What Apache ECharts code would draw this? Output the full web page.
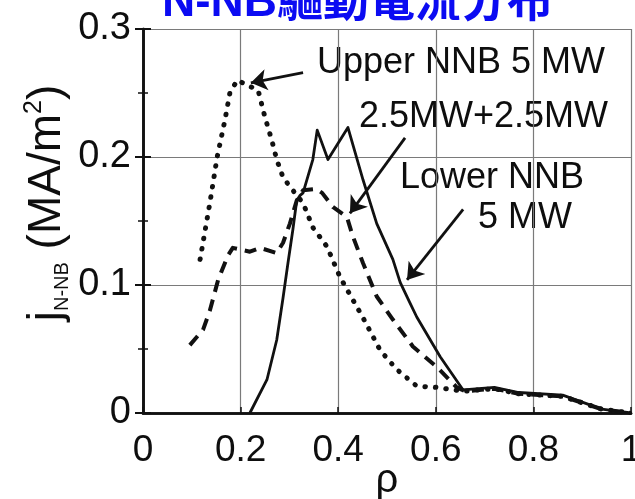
<!DOCTYPE html>
<html>
<head>
<meta charset="utf-8">
<script src="https://cdn.jsdelivr.net/npm/echarts@6/dist/echarts.min.js"></script>
<style>
  html, body { margin: 0; padding: 0; background: #fff; }
  #chart { width: 635px; height: 499px; }
</style>
</head>
<body>
<div id="chart"></div>
<script>
// Normalized radius rho and N-NB driven current density j (MA/m^2)
const rhoUpper = [0.117, 0.137, 0.152, 0.168, 0.178, 0.193, 0.215, 0.236, 0.25, 0.264, 0.274, 0.287, 0.307, 0.328, 0.348, 0.377, 0.404, 0.45, 0.486, 0.52, 0.561, 0.602, 0.656, 0.72, 0.77, 0.86, 0.94, 1.0];
const jUpper   = [0.12, 0.164, 0.2, 0.229, 0.25, 0.26, 0.256, 0.252, 0.231, 0.213, 0.198, 0.184, 0.174, 0.164, 0.145, 0.13, 0.106, 0.075, 0.049, 0.034, 0.021, 0.02, 0.017, 0.019, 0.015, 0.013, 0.003, 0.0];

const rhoCombo = [0.096, 0.123, 0.137, 0.154, 0.174, 0.184, 0.219, 0.24, 0.274, 0.287, 0.301, 0.315, 0.328, 0.355, 0.367, 0.389, 0.418, 0.43, 0.451, 0.479, 0.512, 0.553, 0.602, 0.643, 0.66, 0.72, 0.77, 0.86, 0.94, 1.0];
const jCombo   = [0.053, 0.065, 0.08, 0.104, 0.123, 0.129, 0.126, 0.129, 0.125, 0.133, 0.148, 0.166, 0.174, 0.175, 0.172, 0.161, 0.153, 0.138, 0.117, 0.091, 0.073, 0.052, 0.036, 0.02, 0.017, 0.019, 0.015, 0.013, 0.003, 0.0];

const rhoLower = [0.219, 0.254, 0.274, 0.287, 0.297, 0.307, 0.315, 0.322, 0.328, 0.348, 0.357, 0.379, 0.42, 0.451, 0.479, 0.512, 0.527, 0.547, 0.561, 0.609, 0.656, 0.72, 0.77, 0.86, 0.94, 1.0];
const jLower   = [0.0, 0.026, 0.057, 0.09, 0.117, 0.143, 0.166, 0.17, 0.172, 0.198, 0.221, 0.198, 0.223, 0.182, 0.148, 0.12, 0.102, 0.086, 0.075, 0.044, 0.018, 0.02, 0.016, 0.014, 0.003, 0.0];

// Annotation arrows: [tail, head] in (rho, j)
const arrowUpper = [[0.328, 0.266], [0.221, 0.258]];
const arrowCombo = [[0.537, 0.215], [0.424, 0.156]];
const arrowLower = [[0.656, 0.159], [0.541, 0.104]];

const xTickLabels = ['0', '0.2', '0.4', '0.6', '0.8', '1'];
const yTickLabels = ['0', '0.1', '0.2', '0.3'];

const titleText = 'N-NB驅動電流分布';
const labelUpper = 'Upper NNB 5 MW';
const labelCombo = '2.5MW+2.5MW';
const labelLower1 = 'Lower NNB';
const labelLower2 = '5 MW';

const pairs = (xs, ys) => xs.map((x, i) => [x, ys[i]]);

const FONT = '"Liberation Sans", Arial, Helvetica, sans-serif';
const INK = '#0e0e0e';

const chart = echarts.init(document.getElementById('chart'), null, { renderer: 'canvas' });

const gridLine = { show: true, lineStyle: { color: '#7a7a7a', width: 1.2 } };
const frameLine = { show: true, lineStyle: { color: '#111', width: 2.6 } };
const textStyleOf = size => ({ font: size + 'px ' + FONT, fill: INK, align: 'left', verticalAlign: 'middle', textAlign: 'left', textVerticalAlign: 'middle' });

chart.setOption({
  backgroundColor: '#ffffff',
  animation: false,
  title: {
    text: titleText,
    left: 162,
    top: -20,
    padding: 0,
    textStyle: {
      color: '#0b0bf2',
      fontSize: 46,
      fontWeight: 'bold',
      fontFamily: '"Liberation Sans", "Noto Sans CJK TC", sans-serif'
    }
  },
  grid: { left: 143, right: 4, top: 29, bottom: 86, outerBoundsMode: 'none' },
  xAxis: [
    {
      type: 'value', min: 0, max: 1, interval: 0.2,
      name: 'ρ', nameLocation: 'middle', nameGap: 48, nameMoveOverlap: false,
      nameTextStyle: { fontSize: 40, color: INK, fontFamily: FONT },
      axisLine: frameLine,
      axisTick: { show: true, inside: true, length: 6, lineStyle: { color: '#111', width: 1.5 } },
      splitLine: gridLine,
      axisLabel: {
        margin: 19, fontSize: 37, color: INK, fontFamily: FONT,
        formatter: v => xTickLabels[Math.round(v / 0.2)]
      }
    },
    {
      type: 'value', min: 0, max: 1, interval: 0.2, position: 'top',
      axisLine: frameLine, axisTick: { show: false }, axisLabel: { show: false }, splitLine: { show: false }
    }
  ],
  yAxis: [
    {
      type: 'value', min: 0, max: 0.3, interval: 0.1,
      name: '{j|j}{s|N-NB} {m|(MA/m}{p|2}{m|)}',
      nameLocation: 'middle', nameRotate: 90, nameGap: 71, nameMoveOverlap: false,
      nameTextStyle: {
        color: INK, fontFamily: FONT, fontSize: 46,
        padding: [0, 0, 0, 36],
        rich: {
          j: { fontSize: 46, lineHeight: 50, fontFamily: FONT, color: INK },
          s: { fontSize: 20, lineHeight: 20, verticalAlign: 'bottom', fontFamily: FONT, color: INK },
          m: { fontSize: 46, lineHeight: 50, fontFamily: FONT, color: INK },
          p: { fontSize: 25, lineHeight: 25, verticalAlign: 'top', fontFamily: FONT, color: INK }
        }
      },
      axisLine: frameLine,
      axisTick: { show: true, inside: true, length: 8, lineStyle: { color: '#111', width: 2 } },
      minorTick: { show: true, splitNumber: 2, length: 5, lineStyle: { color: '#111', width: 1.5 } },
      splitLine: gridLine,
      axisLabel: {
        margin: 12, fontSize: 38, color: INK, fontFamily: FONT,
        formatter: v => yTickLabels[Math.round(v / 0.1)]
      }
    },
    {
      type: 'value', min: 0, max: 0.3, interval: 0.1, position: 'right',
      axisLine: frameLine,
      axisTick: { show: true, inside: true, length: 8, lineStyle: { color: '#111', width: 2 } },
      minorTick: { show: true, splitNumber: 2, length: 5, lineStyle: { color: '#111', width: 1.5 } },
      axisLabel: { show: false }, splitLine: { show: false }
    }
  ],
  series: [
    {
      name: labelUpper, type: 'line', data: pairs(rhoUpper, jUpper),
      showSymbol: false, symbol: 'none',
      lineStyle: { color: '#111', width: 5, type: [0.5, 10], cap: 'round', join: 'round' }
    },
    {
      name: labelCombo, type: 'line', data: pairs(rhoCombo, jCombo),
      showSymbol: false, symbol: 'none',
      lineStyle: { color: '#111', width: 4, type: [12, 8], cap: 'butt', join: 'round' }
    },
    {
      name: labelLower1 + ' ' + labelLower2, type: 'line', data: pairs(rhoLower, jLower),
      showSymbol: false, symbol: 'none',
      lineStyle: { color: '#111', width: 2.8, type: 'solid', join: 'round' }
    },
    {
      type: 'lines', coordinateSystem: 'cartesian2d',
      symbol: ['none', 'arrow'], symbolSize: 16,
      lineStyle: { color: '#111', width: 2.8, opacity: 1, curveness: 0 },
      data: [
        { coords: arrowUpper },
        { coords: arrowCombo },
        { coords: arrowLower }
      ]
    }
  ],
  graphic: [
    { type: 'text', x: 317, y: 63, style: Object.assign({ text: labelUpper }, textStyleOf(36)) },
    { type: 'text', x: 359, y: 117, style: Object.assign({ text: labelCombo }, textStyleOf(36)) },
    { type: 'text', x: 400, y: 178, style: Object.assign({ text: labelLower1 }, textStyleOf(36)) },
    { type: 'text', x: 478, y: 218, style: Object.assign({ text: labelLower2 }, textStyleOf(36)) }
  ]
});
</script>
</body>
</html>
